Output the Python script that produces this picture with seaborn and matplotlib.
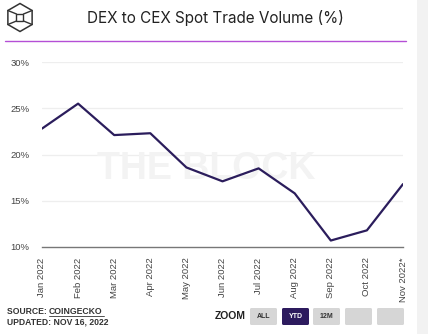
import matplotlib
matplotlib.use("Agg")
import matplotlib.pyplot as plt
import seaborn as sns
import pandas as pd
from matplotlib.patches import Rectangle, FancyBboxPatch, RegularPolygon

months = ["Jan 2022", "Feb 2022", "Mar 2022", "Apr 2022", "May 2022", "Jun 2022",
          "Jul 2022", "Aug 2022", "Sep 2022", "Oct 2022", "Nov 2022*"]
ratio = [22.8, 25.5, 22.1, 22.3, 18.6, 17.1, 18.5, 15.8, 10.7, 11.8, 16.8]
yticks = [10, 15, 20, 25, 30]
ytick_labels = ["10%", "15%", "20%", "25%", "30%"]

sns.set_theme(style="white")
plt.rcParams['font.family'] = ['Liberation Sans', 'DejaVu Sans']

W, H = 428, 334
fig = plt.figure(figsize=(W / 100, H / 100), dpi=100)
fig.patch.set_facecolor("white")

L, R, T, B = 42, 403, 62, 247
ax = fig.add_axes([L / W, 1 - B / H, (R - L) / W, (B - T) / H])

df = pd.DataFrame({"idx": range(len(months)), "value": ratio})
sns.lineplot(data=df, x="idx", y="value", ax=ax, color="#2b1d5c", linewidth=1.6)

ax.set_xlim(0, len(months) - 1)
ax.set_ylim(10, 30)
ax.set_yticks(yticks)
ax.set_yticklabels(ytick_labels, fontsize=6.8, color="#444444")
ax.set_xticks(range(len(months)))
ax.set_xticklabels(months, rotation=90, fontsize=6.8, color="#444444")
ax.set_xlabel("")
ax.set_ylabel("")
ax.tick_params(axis="y", length=0, pad=9)
ax.tick_params(axis="x", length=0, pad=7.5)
for y in yticks[1:]:
    ax.axhline(y, color="#eeeeee", linewidth=0.9, zorder=0)
for s in ["top", "right", "left"]:
    ax.spines[s].set_visible(False)
ax.spines["bottom"].set_color("#777777")
ax.spines["bottom"].set_linewidth(1.0)
ax.set_facecolor("none")

# watermark
ax.text(0.454, 0.424, "THE BLOCK", transform=ax.transAxes, ha="center", va="center",
        fontsize=27, fontweight="heavy", color="#f3f3f3", zorder=0)

# overlay axes for decorations in pixel coords
ov = fig.add_axes([0, 0, 1, 1], zorder=-1)
ov.set_xlim(0, W)
ov.set_ylim(H, 0)
ov.axis("off")
ov.add_patch(Rectangle((417, 0), 11, H, color="#f2f2f2", lw=0))
ov.plot([5, 406], [41, 41], color="#b44fd6", lw=1.0)

fig.text(215 / W, 1 - 18.5 / H, "DEX to CEX Spot Trade Volume (%)", ha="center", va="center",
         fontsize=11, color="#222222", family="Inter")

# logo
cx, cy, r = 20, 17.5, 14
ov.add_patch(RegularPolygon((cx, cy), 6, radius=r, orientation=0, fill=False,
                            edgecolor="#333333", lw=1.1))
ov.add_patch(Rectangle((cx - 3.5, cy - 3.5), 7, 7, fill=False, edgecolor="#333333", lw=1.0))
hx, hy = r * 0.866, r * 0.5
for (x0, y0, x1, y1) in [(cx - hx, cy - hy, cx - 3.5, cy - 3.5), (cx + hx, cy - hy, cx + 3.5, cy - 3.5),
                         (cx - hx, cy + hy, cx - 3.5, cy + 3.5), (cx + hx, cy + hy, cx + 3.5, cy + 3.5)]:
    ov.plot([x0, x1], [y0, y1], color="#333333", lw=1.0)

# source
fig.text(7 / W, 1 - 311 / H, "SOURCE: ", fontsize=6.2, fontweight="bold", color="#333333",
         va="center", ha="left")
fig.text(49 / W, 1 - 311 / H, "COINGECKO", fontsize=6.2, fontweight="bold", color="#333333",
         va="center", ha="left")
ov.plot([49, 104], [315.5, 315.5], color="#333333", lw=0.6)
fig.text(7 / W, 1 - 321.5 / H, "UPDATED: NOV 16, 2022", fontsize=6.2, fontweight="bold",
         color="#333333", va="center", ha="left")

# zoom buttons
fig.text(215 / W, 1 - 316 / H, "ZOOM", fontsize=7.5, fontweight="bold", color="#222222",
         va="center", ha="left")
buttons = [("ALL", 250), ("YTD", 282), ("12M", 313), ("", 345), ("", 377)]
for lab, x in buttons:
    dark = lab == "YTD"
    ov.add_patch(FancyBboxPatch((x, 308), 27, 17, boxstyle="round,pad=0,rounding_size=1.5",
                                facecolor="#2d1b5e" if dark else "#d6d6d6", edgecolor="none"))
    if lab:
        ov.text(x + 13.5, 317, lab, ha="center", va="center", fontsize=5,
                fontweight="bold", color="white" if dark else "#333333")

fig.savefig("out.png", dpi=100)
